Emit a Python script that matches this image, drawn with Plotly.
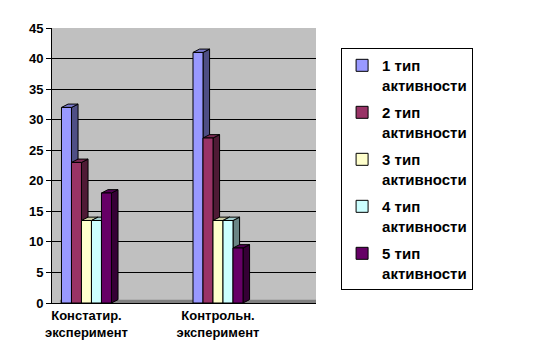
import plotly.graph_objects as go

categories = ["Констатир.<br>эксперимент", "Контрольн.<br>эксперимент"]
series_names = ["1 тип<br>активности", "2 тип<br>активности", "3 тип<br>активности",
                "4 тип<br>активности", "5 тип<br>активности"]
type1 = [32, 41]
type2 = [23, 27]
type3 = [13.5, 13.5]
type4 = [13.5, 13.5]
type5 = [18, 9]
y_ticks = list(range(0, 50, 5))

series = [type1, type2, type3, type4, type5]
front_colors = ["#9999FF", "#993366", "#FFFFCC", "#CCFFFF", "#660066"]
side_colors = ["#4F4F85", "#4F1A35", "#85856A", "#6A8585", "#350035"]
top_colors = ["#7A7ACC", "#7A2952", "#CCCCA3", "#A3CCCC", "#520052"]

FONT = "Liberation Sans, Arial, sans-serif"
bar_w = 0.076
n = len(series)
dx = 0.05   # depth offset in x (data units)
dy = 0.55   # depth offset in y (data units)

fig = go.Figure()
shapes = []
for i, (vals, name) in enumerate(zip(series, series_names)):
    off = -n * bar_w / 2 + i * bar_w
    fig.add_trace(go.Bar(
        x=list(range(len(categories))), y=vals, name=name,
        width=bar_w, offset=off, legendgroup=f"g{i}",
        marker=dict(color=front_colors[i], line=dict(color="black", width=1)),
    ))
    for c, v in enumerate(vals):
        x0 = c + off
        x1 = x0 + bar_w
        shapes.append(dict(
            type="path", xref="x", yref="y", layer="between",
            path=f"M {x1},0 L {x1+dx},{dy} L {x1+dx},{v+dy} L {x1},{v} Z",
            fillcolor=side_colors[i], line=dict(color="black", width=1)))
        shapes.append(dict(
            type="path", xref="x", yref="y", layer="between",
            path=f"M {x0},{v} L {x0+dx},{v+dy} L {x1+dx},{v+dy} L {x1},{v} Z",
            fillcolor=top_colors[i], line=dict(color="black", width=1)))

shapes.insert(0, dict(type="rect", xref="paper", yref="y", layer="between",
                      x0=0.03, x1=1.0, y0=0, y1=0.55,
                      fillcolor="#808080", line=dict(width=0)))

fig.update_layout(
    width=551, height=363,
    margin=dict(l=44, r=243, t=20, b=68),
    paper_bgcolor="white", plot_bgcolor="#C0C0C0",
    barmode="overlay",
    showlegend=True,
    shapes=shapes,
    font=dict(family=FONT, size=13, color="black"),
    legend=dict(
        x=1.095, y=0.927, xanchor="left", yanchor="top",
        bordercolor="black", borderwidth=1, bgcolor="white",
        font=dict(family=FONT, size=15, color="black", weight="bold"),
        tracegroupgap=5, traceorder="grouped", valign="top",
    ),
    xaxis=dict(
        range=[-0.262, 1.745], tickvals=[0, 1], ticktext=categories,
        showgrid=False, zeroline=False, showline=True, linecolor="black",
        tickfont=dict(family=FONT, size=13, color="black", weight="bold"),
        ticks="",
    ),
    yaxis=dict(
        range=[0, 45], tickvals=y_ticks, showgrid=True, gridcolor="black",
        gridwidth=1, zeroline=False, showline=True, linecolor="black",
        ticks="outside", ticklen=5, tickcolor="black",
        tickfont=dict(family=FONT, size=13, color="black", weight="bold"),
    ),
)

fig.write_html("out.html")
